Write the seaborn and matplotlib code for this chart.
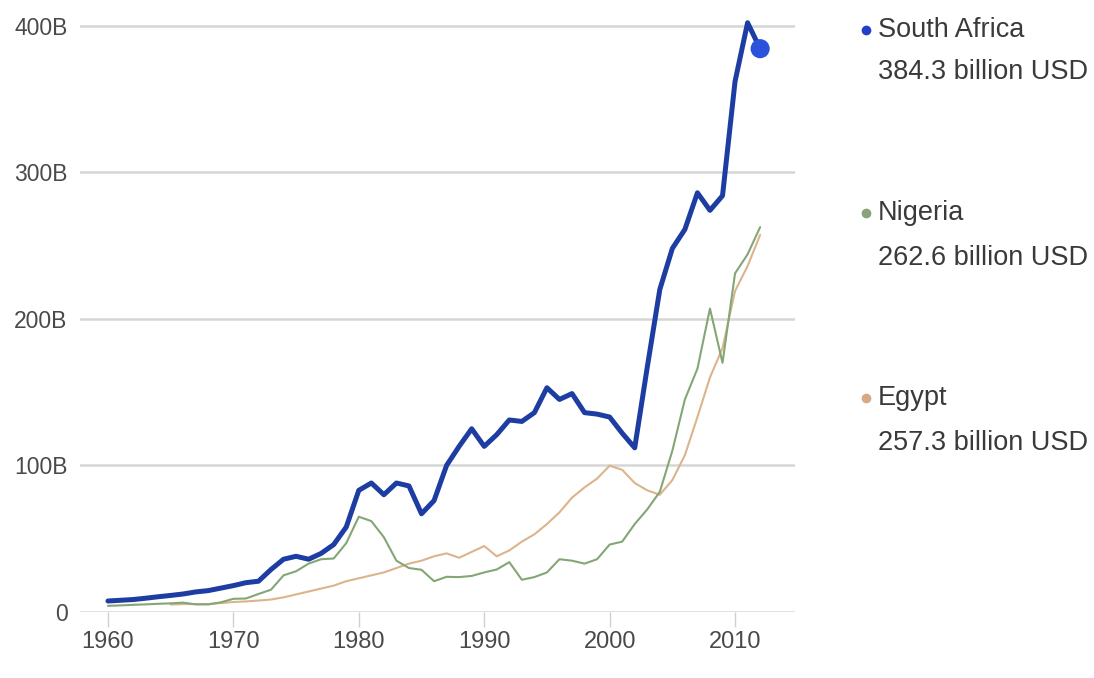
import numpy as np
import pandas as pd
import matplotlib
matplotlib.use("Agg")
import matplotlib.pyplot as plt
from matplotlib.lines import Line2D
import seaborn as sns

# ---- data (billion USD) ----
years_sa = list(range(1960, 2013))
south_africa = [7.5, 8.0, 8.5, 9.4, 10.4, 11.3, 12.3, 13.7, 14.6, 16.3,
                18.0, 20.0, 21.0, 29.0, 36.0, 38.0, 36.0, 40.0, 46.0, 58.0,
                83.0, 88.0, 80.0, 88.0, 86.0, 67.0, 76.0, 100.0, 113.0, 125.0,
                113.0, 121.0, 131.0, 130.0, 136.0, 153.0, 145.0, 149.0, 136.0, 135.0,
                133.0, 122.0, 112.0, 167.0, 220.0, 248.0, 261.0, 286.0, 274.0, 284.0,
                362.0, 402.0, 384.3]

years_ng = list(range(1960, 2013))
nigeria = [4.2, 4.5, 4.9, 5.2, 5.6, 5.9, 6.4, 5.2, 5.2, 6.6,
           9.0, 9.2, 12.3, 15.2, 25.0, 27.8, 33.0, 36.0, 36.5, 47.0,
           65.0, 62.0, 51.0, 35.0, 30.0, 28.8, 21.0, 24.0, 23.8, 24.6,
           27.0, 29.0, 34.0, 22.0, 23.8, 27.0, 36.0, 35.0, 33.0, 36.0,
           46.0, 48.0, 60.0, 70.0, 82.0, 110.0, 145.0, 166.0, 207.0, 170.0,
           231.0, 244.0, 262.6]

years_eg = list(range(1965, 2013))
egypt = [5.1, 5.4, 5.4, 5.4, 6.1,
         6.8, 7.2, 7.8, 8.5, 10.0, 12.0, 14.0, 16.0, 18.0, 21.0,
         23.0, 25.0, 27.0, 30.0, 33.0, 35.0, 38.0, 40.0, 37.0, 41.0,
         45.0, 38.0, 42.0, 48.0, 53.0, 60.0, 68.0, 78.0, 85.0, 91.0,
         99.8, 97.0, 88.0, 83.0, 80.0, 90.0, 107.0, 133.0, 160.0, 180.0,
         219.0, 236.0, 257.3]

series_names = ["South Africa", "Nigeria", "Egypt"]
series_values = ["384.3 billion USD", "262.6 billion USD", "257.3 billion USD"]
y_ticks = [0, 100, 200, 300, 400]
y_tick_labels = ["0", "100B", "200B", "300B", "400B"]
x_ticks = [1960, 1970, 1980, 1990, 2000, 2010]

col_sa = "#1d3da3"
col_sa_dot = "#2a52dc"
col_ng = "#84a676"
col_eg = "#dcb48c"
legend_dot_cols = ["#2340c8", "#8aa27c", "#d9aa82"]

sns.set_theme(style="white")
plt.rcParams['font.family'] = ['Liberation Sans', 'DejaVu Sans']

W, H = 1094, 678
fig = plt.figure(figsize=(W / 100, H / 100), dpi=100)
ax = fig.add_axes([80 / W, (H - 612) / H, (795 - 80) / W, (612 - 11) / H])

df_ng = pd.DataFrame({"year": years_ng, "gdp": nigeria})
df_eg = pd.DataFrame({"year": years_eg, "gdp": egypt})
df_sa = pd.DataFrame({"year": years_sa, "gdp": south_africa})

sns.lineplot(data=df_eg, x="year", y="gdp", ax=ax, color=col_eg, linewidth=1.5, zorder=3)
sns.lineplot(data=df_ng, x="year", y="gdp", ax=ax, color=col_ng, linewidth=1.5, zorder=4)
sns.lineplot(data=df_sa, x="year", y="gdp", ax=ax, color=col_sa, linewidth=3.6, zorder=5)
sns.scatterplot(x=[years_sa[-1]], y=[south_africa[-1]], ax=ax, color=col_sa_dot,
                s=190, edgecolor="none", zorder=6, clip_on=False)

ax.set_xlim(1957.77, 2014.78)
ax.set_ylim(0, 410)
ax.set_xlabel("")
ax.set_ylabel("")
for s in ax.spines.values():
    s.set_visible(False)

ax.set_yticks(y_ticks)
ax.set_yticklabels(y_tick_labels)
ax.set_xticks(x_ticks)
ax.set_xticklabels([str(x) for x in x_ticks])
ax.grid(axis="y", color="#d6d6d6", linewidth=1.8)
ax.grid(axis="x", visible=False)
ax.set_axisbelow(True)
ax.tick_params(axis="y", length=0, pad=9, labelsize=16.5, labelcolor="#4a4a4a")
ax.tick_params(axis="x", length=11, width=1, color="#d0d0d0", direction="out",
               pad=3, labelsize=17, labelcolor="#4a4a4a", bottom=True)

# legend on the right
leg_rows = [(30, 72), (213, 258), (398, 443)]
for (y1, y2), name, val, c in zip(leg_rows, series_names, series_values, legend_dot_cols):
    fig.add_artist(Line2D([866 / W], [1 - y1 / H], transform=fig.transFigure,
                          marker="o", markersize=7, color=c, markeredgewidth=0,
                          linestyle="none"))
    fig.text(878 / W, 1 - y1 / H, name, ha="left", va="center", fontsize=19.5, color="#3a3a3a")
    fig.text(878 / W, 1 - y2 / H, val, ha="left", va="center", fontsize=19.5, color="#3a3a3a")

fig.savefig("out.png", dpi=100)
